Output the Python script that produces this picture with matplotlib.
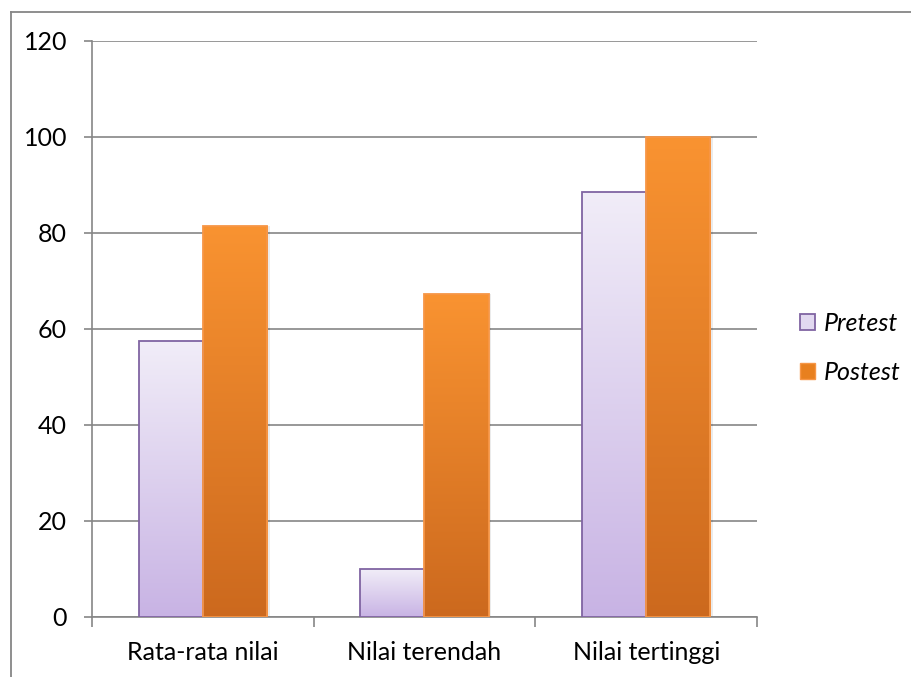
import numpy as np
import matplotlib.pyplot as plt
from matplotlib.patches import Rectangle
from matplotlib.lines import Line2D
from matplotlib.colors import LinearSegmentedColormap

# Data
categories = ["Rata-rata nilai", "Nilai terendah", "Nilai tertinggi"]
pretest = [57.5, 10, 88.6]
postest = [81.5, 67.2, 100]
series_names = ["Pretest", "Postest"]

plt.rcParams['font.family'] = ['Lato', 'DejaVu Sans']

W, H = 912, 677
fig = plt.figure(figsize=(W / 100, H / 100), dpi=100)
ax = fig.add_axes([92 / W, 1 - 617 / H, (757 - 92) / W, (617 - 41) / H])

# gradients (top colour -> bottom colour)
pre_cmap = LinearSegmentedColormap.from_list("pre", ["#c8b3e4", "#f1edf8"])
post_cmap = LinearSegmentedColormap.from_list("post", ["#cc691e", "#f99331"])
grad = np.linspace(0, 1, 256).reshape(-1, 1)

x = np.arange(len(categories))
bw = 0.29


def grad_bar(xc, h, cmap, edge):
    left = xc - bw / 2
    # soft shadow
    sh = Rectangle((left + 0.012, 0), bw, h, facecolor="#000000", alpha=0.08,
                   edgecolor="none", zorder=2)
    ax.add_patch(sh)
    rect = Rectangle((left, 0), bw, h, facecolor="none", edgecolor=edge,
                     linewidth=1.3, zorder=4)
    ax.add_patch(rect)
    im = ax.imshow(grad, extent=(left, left + bw, 0, h), origin="lower",
                   cmap=cmap, aspect="auto", zorder=3, interpolation="bicubic")
    im.set_clip_path(rect)


for i in range(len(categories)):
    grad_bar(x[i] - bw / 2, pretest[i], pre_cmap, "#8064a2")
    grad_bar(x[i] + bw / 2, postest[i], post_cmap, "#f79646")

ax.set_xlim(-0.5, len(categories) - 0.5)
ax.set_ylim(0, 120)
ax.set_yticks(np.arange(0, 121, 20))
ax.set_xticks(x)
ax.set_xticklabels(categories)
ax.set_xticks(np.arange(-0.5, len(categories), 1), minor=True)
ax.tick_params(axis="x", which="major", length=0, pad=17, labelsize=18)
ax.tick_params(axis="x", which="minor", length=7, width=1.2, color="#868686")
ax.tick_params(axis="y", length=6, width=1.2, color="#868686", pad=12, labelsize=18)
ax.grid(axis="y", color="#868686", linewidth=1.2, zorder=0)
ax.set_axisbelow(True)
for s in ["top", "right"]:
    ax.spines[s].set_visible(False)
for s in ["left", "bottom"]:
    ax.spines[s].set_color("#868686")
    ax.spines[s].set_linewidth(1.2)

# legend
handles = [Rectangle((0, 0), 1, 1, facecolor="#e2d9f0", edgecolor="#8064a2", linewidth=1.3),
           Rectangle((0, 0), 1, 1, facecolor="#e8801f", edgecolor="#f79646", linewidth=1.0)]
leg = fig.legend(handles, series_names, loc="center left",
                 bbox_to_anchor=(800 / W, 1 - 348 / H), frameon=False,
                 prop={"size": 18, "style": "italic"}, handlelength=0.6,
                 handleheight=0.6, handletextpad=0.35, labelspacing=1.05,
                 borderpad=0, borderaxespad=0)

# outer chart frame
fig.add_artist(Line2D([11 / W, 11 / W], [0, 1 - 12 / H], transform=fig.transFigure,
                      color="#868686", linewidth=1.3))
fig.add_artist(Line2D([11 / W, 1], [1 - 12 / H, 1 - 12 / H], transform=fig.transFigure,
                      color="#868686", linewidth=1.3))

fig.savefig("out.png", dpi=100)
